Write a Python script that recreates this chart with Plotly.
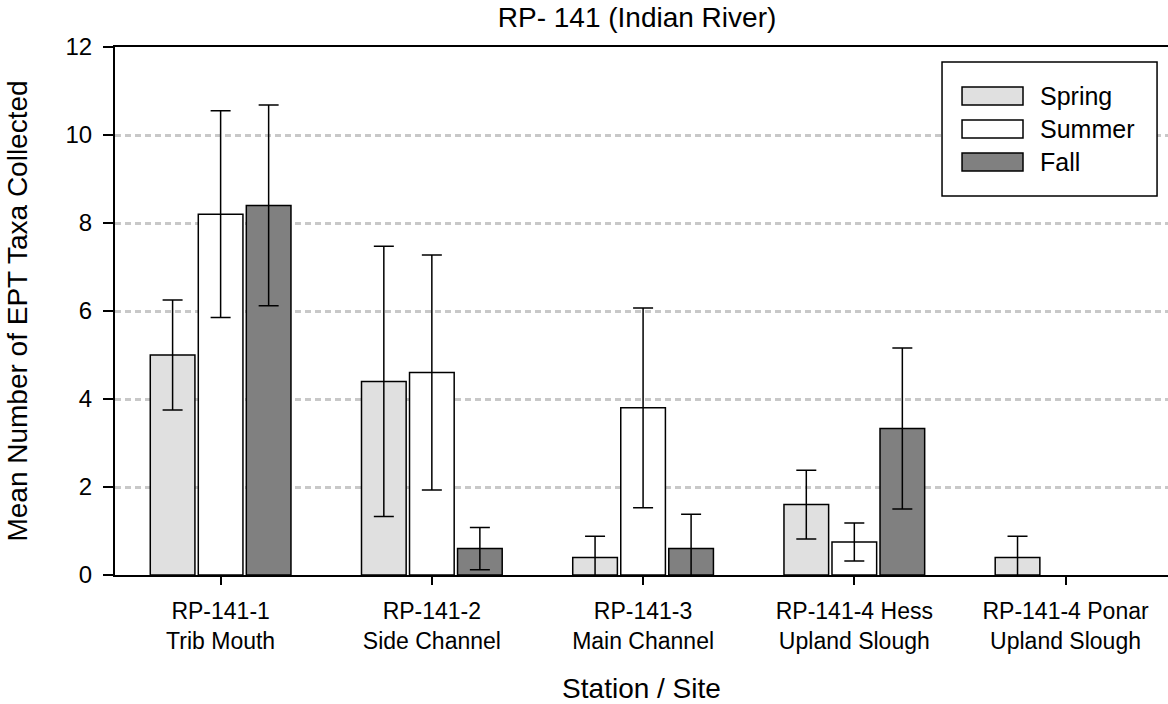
import plotly.graph_objects as go

# Station / site categories (two-line tick labels)
stations = [
    "RP-141-1<br>Trib Mouth",
    "RP-141-2<br>Side Channel",
    "RP-141-3<br>Main Channel",
    "RP-141-4 Hess<br>Upland Slough",
    "RP-141-4 Ponar<br>Upland Slough",
]

# Seasonal means and error values
seasons = ["Spring", "Summer", "Fall"]
spring_mean = [5.0, 4.4, 0.4, 1.6, 0.4]
spring_err = [1.25, 3.07, 0.48, 0.78, 0.48]
summer_mean = [8.2, 4.6, 3.8, 0.75, 0.0]
summer_err = [2.35, 2.67, 2.27, 0.43, 0.0]
fall_mean = [8.4, 0.6, 0.6, 3.33, 0.0]
fall_err = [2.28, 0.48, 0.78, 1.83, 0.0]

season_colors = ["#e0e0e0", "#ffffff", "#808080"]
y_ticks = [0, 2, 4, 6, 8, 10, 12]

FONT = "Liberation Sans, Arial, sans-serif"

fig = go.Figure()
x_pos = list(range(len(stations)))
for name, means, errs, color in zip(
    seasons,
    [spring_mean, summer_mean, fall_mean],
    [spring_err, summer_err, fall_err],
    season_colors,
):
    # zero means leave an empty slot (no outline, no whisker)
    heights = [v if v > 0 else None for v in means]
    whisker = [e if v > 0 else None for v, e in zip(means, errs)]
    fig.add_trace(
        go.Bar(
            name=name,
            x=x_pos,
            y=heights,
            marker=dict(color=color, line=dict(color="black", width=1.5)),
            error_y=dict(
                type="data",
                array=whisker,
                visible=True,
                color="black",
                thickness=1.5,
                width=10,
            ),
            showlegend=False,
        )
    )

# Hand-built legend box with wide swatches
leg_x0, leg_x1 = 0.7854, 0.9896
leg_y0, leg_y1 = 0.7177, 0.9716
sw_x0, sw_x1 = 0.8044, 0.8623
txt_x = 0.8766
row_y = [0.9072, 0.8447, 0.7822]
sw_h = 0.017

shapes = [
    dict(type="rect", xref="paper", yref="paper",
         x0=leg_x0, x1=leg_x1, y0=leg_y0, y1=leg_y1,
         line=dict(color="black", width=1.5), fillcolor="white", layer="above"),
]
annotations = []
for name, color, ry in zip(seasons, season_colors, row_y):
    shapes.append(dict(type="rect", xref="paper", yref="paper",
                       x0=sw_x0, x1=sw_x1, y0=ry - sw_h, y1=ry + sw_h,
                       line=dict(color="black", width=1.5), fillcolor=color,
                       layer="above"))
    annotations.append(dict(xref="paper", yref="paper", x=txt_x, y=ry,
                            text=name, showarrow=False, xanchor="left",
                            yanchor="middle",
                            font=dict(family=FONT, size=25, color="black")))

fig.update_layout(
    width=1168,
    height=704,
    margin=dict(l=115, r=0, t=47, b=129),
    paper_bgcolor="white",
    plot_bgcolor="white",
    barmode="group",
    bargap=0.318,
    bargroupgap=0.07,
    font=dict(family=FONT, color="black"),
    title=dict(
        text="RP- 141 (Indian River)",
        x=0.5454, xref="container", xanchor="center",
        y=0.976, yref="container", yanchor="middle",
        font=dict(family=FONT, size=28, color="black"),
    ),
    shapes=shapes,
    annotations=annotations,
)

fig.update_xaxes(
    range=[-0.5, 4.485],
    tickmode="array",
    tickvals=x_pos,
    ticktext=stations,
    ticks="outside",
    ticklen=8,
    tickwidth=1.5,
    tickcolor="black",
    ticklabelstandoff=6,
    tickfont=dict(family=FONT, size=23, color="black"),
    showline=True,
    linecolor="black",
    linewidth=2,
    mirror=True,
    showgrid=False,
    zeroline=False,
    title=dict(text="Station / Site", font=dict(family=FONT, size=28, color="black"),
               standoff=26),
)

fig.update_yaxes(
    range=[0, 12],
    tickmode="array",
    tickvals=y_ticks,
    ticks="outside",
    ticklen=10,
    tickwidth=1.5,
    tickcolor="black",
    ticklabelstandoff=6,
    tickfont=dict(family=FONT, size=24, color="black"),
    showline=True,
    linecolor="black",
    linewidth=2,
    showgrid=True,
    gridcolor="#c8c8c8",
    gridwidth=3,
    griddash="6px,4px",
    zeroline=False,
    title=dict(text="Mean Number of EPT Taxa Collected",
               font=dict(family=FONT, size=28, color="black"), standoff=30),
)

fig.write_html("out.html")
